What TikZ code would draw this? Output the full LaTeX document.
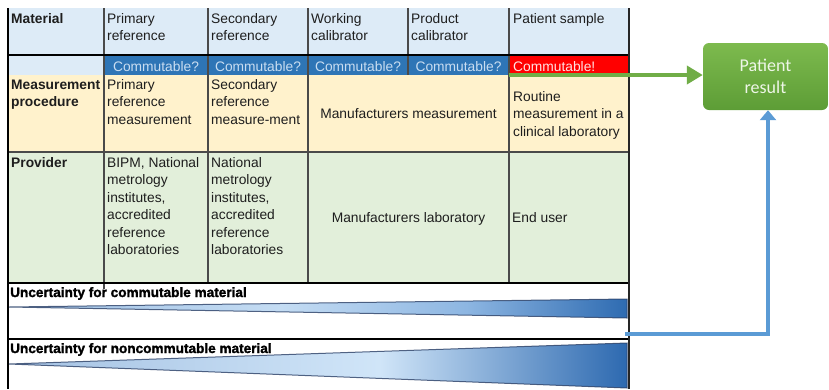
\documentclass[tikz,border=0pt]{standalone}
\usepackage{fontspec}
\setmainfont{Liberation Sans}
\newfontfamily\calib{Carlito}
\newfontfamily\heavy[FakeBold=1.6]{Liberation Sans Bold}
\usetikzlibrary{arrows.meta}
\newcommand\mlines[1]{\vtop{\halign{##\hfil\cr#1\crcr}}}
\definecolor{hdr}{HTML}{DDEBF7}
\definecolor{cblue}{HTML}{2E75B6}
\definecolor{ctxt}{HTML}{C9DDF1}
\definecolor{cred}{HTML}{FF0000}
\definecolor{credtxt}{HTML}{FFE3E3}
\definecolor{meas}{HTML}{FFF2CC}
\definecolor{prov}{HTML}{E2EFDA}
\definecolor{gridc}{HTML}{4A4A4A}
\definecolor{txtc}{HTML}{1E1E1E}
\definecolor{garrow}{HTML}{70AD47}
\definecolor{barrow}{HTML}{5B9BD5}
\definecolor{gtop}{HTML}{7DBA4E}
\definecolor{gbot}{HTML}{5D9D36}
\definecolor{restxt}{HTML}{EEF6E8}
\definecolor{wedgeedge}{HTML}{2A3F66}
\definecolor{wa1}{HTML}{9FC0E4}
\definecolor{wa2}{HTML}{C4DCF3}
\definecolor{wa3}{HTML}{8DB6E2}
\definecolor{wa4}{HTML}{2E6BB1}
\definecolor{wb1}{HTML}{A5C2E3}
\definecolor{wb2}{HTML}{D0E5F8}
\definecolor{wb3}{HTML}{2D69B0}
\pgfdeclarehorizontalshading{wedgeA}{100bp}{color(0bp)=(wa1); color(25bp)=(wa1); color(47bp)=(wa2); color(62bp)=(wa3); color(75bp)=(wa4); color(100bp)=(wa4)}
\pgfdeclarehorizontalshading{wedgeB}{100bp}{color(0bp)=(wb1); color(25bp)=(wb1); color(55bp)=(wb2); color(75bp)=(wb3); color(100bp)=(wb3)}
\begin{document}
\begin{tikzpicture}[x=1pt,y=-1pt,
  txt/.style={anchor=base west,inner sep=0pt,font=\fontsize{13.8}{17.5}\selectfont,text=txtc},
  boldtxt/.style={txt,font=\fontsize{13.8}{17.5}\selectfont\bfseries},
  ctrtxt/.style={anchor=base,inner sep=0pt,font=\fontsize{13.8}{17.5}\selectfont,text=txtc},
  comtxt/.style={anchor=base,inner sep=0pt,font=\fontsize{13.8}{17.5}\selectfont,text=ctxt},
  unctxt/.style={anchor=base west,inner sep=0pt,font=\heavy\fontsize{13.6}{16}\selectfont,text=black},
  gline/.style={draw=gridc,line width=1.2pt},
  bline/.style={draw=black,line width=1.6pt},
  resultbox/.style={rounded corners=6pt,top color=gtop,bottom color=gbot,draw=none,
     minimum width=125pt,minimum height=67pt,inner sep=0pt,align=center,
     font=\calib\fontsize{18}{22}\selectfont,text=restxt},
  greenarrow/.style={draw=garrow,line width=4pt,-{Triangle[length=16pt,width=18pt]}},
  bluearrow/.style={draw=barrow,line width=4.5pt,-{Triangle[length=10pt,width=16pt]}},
  wedgestyle/.style={draw=wedgeedge,line width=1pt,draw opacity=0.8}
]
\useasboundingbox (0,0) rectangle (829,389);
% row fills
\fill[hdr] (8,8) rectangle (629,55);
\fill[hdr] (8,55) rectangle (104,75);
\fill[cblue] (104,55) rectangle (509,75);
\node[fill=cred,inner sep=0pt,outer sep=0pt,minimum width=120pt,minimum height=20pt,anchor=north west] (c5) at (509,55) {};
\fill[meas] (8,75) rectangle (629,152);
\fill[prov] (8,152) rectangle (629,283);
\fill[white] (8,283) rectangle (629,389);
% wedges
\shadedraw[shading=wedgeA,wedgestyle] (9,307) -- (627,299) -- (627,318) -- cycle;
\shadedraw[shading=wedgeB,wedgestyle] (9,364) -- (627,343) -- (627,388) -- cycle;
% grid
\draw[gline] (104,8) -- (104,289);
\draw[gline] (208,8) -- (208,283);
\draw[gline] (308,8) -- (308,283);
\draw[gline] (408,8) -- (408,75);
\draw[gline] (509,8) -- (509,283);
\draw[gline] (8,152) -- (629,152);
\draw[bline] (8,55) -- (629,55);
\draw[bline] (8,283) -- (629,283);
\draw[draw=black,line width=2pt] (8,339) -- (629,339);
\draw[bline] (8,8) -- (8,389);
\draw[draw=black!85,line width=2pt] (629,8) -- (629,389);
% header texts
\node[boldtxt] (hmat) at (11,23) {Material};
\node[txt] (hpri) at (107,23) {\mlines{Primary\cr reference}};
\node[txt] (hsec) at (211,23) {\mlines{Secondary\cr reference}};
\node[txt] (hwor) at (311,23) {\mlines{Working\cr calibrator}};
\node[txt] (hpro) at (411,23) {\mlines{Product\cr calibrator}};
\node[txt] (hpat) at (513,23) {Patient sample};
% commutable row
\node[comtxt] (c1) at (156,71) {Commutable?};
\node[comtxt] (c2) at (258,71) {Commutable?};
\node[comtxt] (c3) at (358,71) {Commutable?};
\node[comtxt] (c4) at (458.5,71) {Commutable?};
\node[txt,text=credtxt] (c5t) at (513,71) {Commutable!};
% measurement row
\node[boldtxt] (mlab) at (11,89) {\mlines{Measurement\cr procedure}};
\node[txt] (mpri) at (107,89) {\mlines{Primary\cr reference\cr measurement}};
\node[txt] (msec) at (211,89) {\mlines{Secondary\cr reference\cr measure-ment}};
\node[ctrtxt] (mman) at (408.5,118) {Manufacturers measurement};
\node[txt] (mpat) at (513,101) {\mlines{Routine\cr measurement in a\cr clinical laboratory}};
% provider row
\node[boldtxt] (plab) at (11,167) {Provider};
\node[txt] (ppri) at (107,167) {\mlines{BIPM, National\cr metrology\cr institutes,\cr accredited\cr reference\cr laboratories}};
\node[txt] (psec) at (211,167) {\mlines{National\cr metrology\cr institutes,\cr accredited\cr reference\cr laboratories}};
\node[ctrtxt] (pman) at (408.5,222) {Manufacturers laboratory};
\node[txt] (ppat) at (512,222) {End user};
% uncertainty labels
\node[unctxt] (u1) at (10,297) {Uncertainty for commutable material};
\node[unctxt] (u2) at (10,353) {Uncertainty for noncommutable material};
% result box
\node[resultbox] (result) at (765.5,76.5) {Patient\\result};
% connectors
\draw[greenarrow] (c5.south west) -- (c5.south west -| result.west);
\coordinate (bstart) at (625,334);
\coordinate (bcorner) at (768,334);
\draw[bluearrow] (bstart) -- (bcorner) -- (bcorner |- result.south);
\end{tikzpicture}
\end{document}
